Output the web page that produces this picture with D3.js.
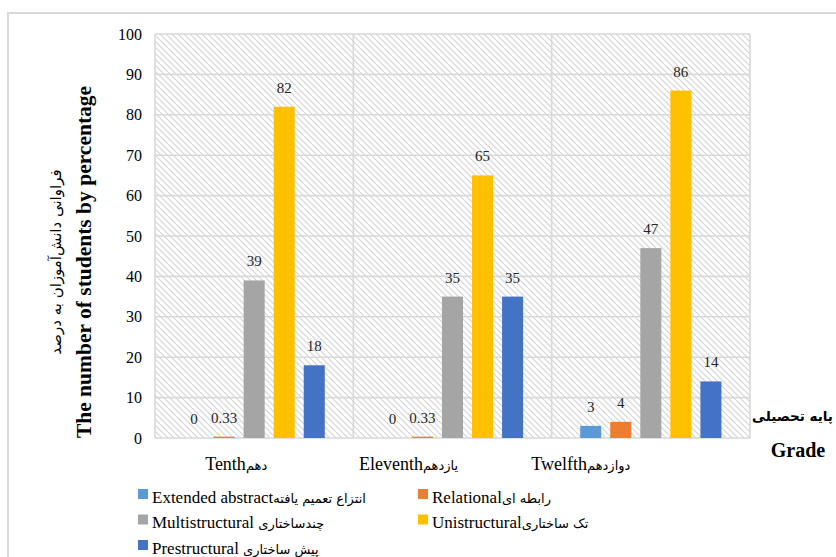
<!DOCTYPE html>
<html>
<head>
<meta charset="utf-8">
<script src="https://cdn.jsdelivr.net/npm/d3@7"></script>
<style>
body { margin: 0; background: #fff; }
text { font-family: "Liberation Serif", "DejaVu Sans", serif; fill: #000; }
.fa { font-family: "DejaVu Sans", "Noto Sans", sans-serif; }
</style>
</head>
<body>
<svg id="chart" width="836" height="557"></svg>
<script>
// chart data
var grades = ["Tenth", "Eleventh", "Twelfth"];
var gradesFa = ["دهم", "یازدهم", "دوازدهم"];
var levels = ["Extended abstract", "Relational", "Multistructural ", "Unistructural", "Prestructural "];
var levelsFa = ["انتزاع تعمیم یافته", "رابطه ای", "چندساختاری", "تک ساختاری", "پیش ساختاری"];
var extendedAbstract = [0, 0, 3];
var relational = [0.33, 0.33, 4];
var multistructural = [39, 35, 47];
var unistructural = [82, 65, 86];
var prestructural = [18, 35, 14];
var yTicks = [0, 10, 20, 30, 40, 50, 60, 70, 80, 90, 100];

var colors = ["#5B9BD5", "#ED7D31", "#A5A5A5", "#FFC000", "#4472C4"];
var seriesValues = [extendedAbstract, relational, multistructural, unistructural, prestructural];

var plot = {left: 155, right: 750, top: 34, bottom: 438};
// category label shifts (layout only)
var catLabelDx = [-18, -44, -70];

var svg = d3.select("#chart");

// outer chart border
svg.append("rect")
    .attr("x", 8).attr("y", 13)
    .attr("width", 900).attr("height", 600)
    .attr("fill", "none")
    .attr("stroke", "#d9d9d9")
    .attr("stroke-width", 2);

var defs = svg.append("defs");
var pat = defs.append("pattern")
    .attr("id", "hatch")
    .attr("patternUnits", "userSpaceOnUse")
    .attr("width", 6).attr("height", 6);
pat.append("rect").attr("width", 6).attr("height", 6).attr("fill", "#fff");
pat.append("path")
    .attr("d", "M-1,-1L7,7M-1,5L1,7M5,-1L7,1")
    .attr("stroke", "#d4d4d4")
    .attr("stroke-width", 1.1);

// x axis title
svg.append("text")
    .attr("class", "fa")
    .attr("x", 752).attr("y", 421)
    .attr("text-anchor", "start")
    .style("font-size", "13.5px")
    .style("font-weight", "bold")
    .text("پایه تحصیلی");
svg.append("text")
    .attr("x", 798).attr("y", 457)
    .attr("text-anchor", "middle")
    .style("font-size", "20px")
    .style("font-weight", "bold")
    .text("Grade");

var x0 = d3.scaleBand()
    .domain(grades)
    .range([plot.left, plot.right]);

var x1 = d3.scaleBand()
    .domain(levels)
    .range([0, x0.bandwidth()])
    .paddingInner(0.3)
    .paddingOuter(0.95);

var y = d3.scaleLinear()
    .domain([0, 100])
    .range([plot.bottom, plot.top]);

// plot background
svg.append("rect")
    .attr("x", plot.left).attr("y", plot.top)
    .attr("width", plot.right - plot.left)
    .attr("height", plot.bottom - plot.top)
    .attr("fill", "url(#hatch)");

// grid lines
svg.append("g").selectAll("line")
    .data(yTicks)
    .enter()
    .append("line")
    .attr("x1", plot.left).attr("x2", plot.right)
    .attr("y1", function(d) { return y(d); })
    .attr("y2", function(d) { return y(d); })
    .attr("stroke", "#d9d9d9")
    .attr("stroke-width", 1.6);

var bounds = grades.map(function(g) { return x0(g); }).concat([plot.right]);
svg.append("g").selectAll("line")
    .data(bounds)
    .enter()
    .append("line")
    .attr("x1", function(d) { return d; })
    .attr("x2", function(d) { return d; })
    .attr("y1", plot.top).attr("y2", plot.bottom)
    .attr("stroke", "#d9d9d9")
    .attr("stroke-width", 1.6);

// y tick labels
svg.append("g").selectAll("text")
    .data(yTicks)
    .enter()
    .append("text")
    .attr("x", 142)
    .attr("y", function(d) { return y(d); })
    .attr("dy", "0.35em")
    .attr("text-anchor", "end")
    .style("font-size", "16px")
    .text(function(d) { return d; });

// bars
var groups = svg.append("g").selectAll("g")
    .data(grades)
    .enter()
    .append("g")
    .attr("transform", function(g) { return "translate(" + x0(g) + ",0)"; });

groups.selectAll("rect")
    .data(function(g, gi) {
        return levels.map(function(l, li) {
            return {level: l, value: seriesValues[li][gi], color: colors[li]};
        });
    })
    .enter()
    .append("rect")
    .attr("x", function(d) { return x1(d.level); })
    .attr("width", x1.bandwidth())
    .attr("y", function(d) { return y(d.value); })
    .attr("height", function(d) { return y(0) - y(d.value); })
    .attr("fill", function(d) { return d.color; });

groups.selectAll("text")
    .data(function(g, gi) {
        return levels.map(function(l, li) {
            return {level: l, value: seriesValues[li][gi]};
        });
    })
    .enter()
    .append("text")
    .attr("x", function(d) { return x1(d.level) + x1.bandwidth() / 2; })
    .attr("y", function(d) { return y(d.value) - 14; })
    .attr("text-anchor", "middle")
    .style("font-size", "15px")
    .style("fill", "#262626")
    .text(function(d) { return d.value; });

// category labels
var cat = svg.append("g").selectAll("text")
    .data(grades)
    .enter()
    .append("text")
    .attr("x", function(g, i) { return x0(g) + x0.bandwidth() / 2 + catLabelDx[i]; })
    .attr("y", 470)
    .attr("text-anchor", "middle")
    .style("font-size", "18px");
cat.append("tspan").text(function(g) { return g; });
cat.append("tspan")
    .attr("class", "fa")
    .style("font-size", "13px")
    .text(function(g, i) { return gradesFa[i]; });

// y axis titles
svg.append("text")
    .attr("class", "fa")
    .attr("transform", "translate(61,262) rotate(-90)")
    .attr("text-anchor", "middle")
    .style("font-size", "15px")
    .text("فراوانی دانش‌آموزان به درصد");
svg.append("text")
    .attr("transform", "translate(91,262) rotate(-90)")
    .attr("text-anchor", "middle")
    .style("font-size", "21.5px")
    .style("font-weight", "bold")
    .text("The number of students by percentage");

// legend
var legend = svg.append("g").selectAll("g")
    .data(levels)
    .enter()
    .append("g")
    .attr("transform", function(l, i) {
        return "translate(" + (i % 2 ? 418 : 138) + "," + (489 + Math.floor(i / 2) * 25.5) + ")";
    });
legend.append("rect")
    .attr("width", 10).attr("height", 10)
    .attr("fill", function(l, i) { return colors[i]; });
var lt = legend.append("text")
    .attr("x", 14).attr("y", 13.5)
    .style("font-size", "17px");
lt.append("tspan").text(function(l) { return l; });
lt.append("tspan")
    .attr("class", "fa")
    .style("font-size", "13px")
    .text(function(l, i) { return levelsFa[i]; });
</script>
</body>
</html>
